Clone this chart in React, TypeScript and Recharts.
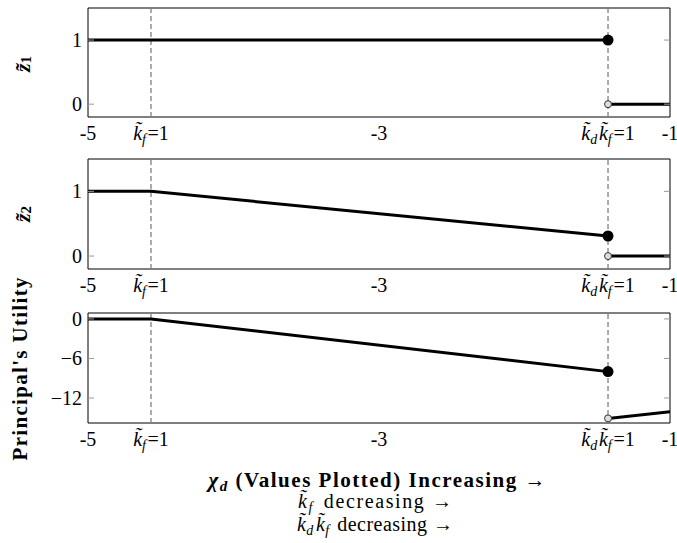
import { LineChart, Line, XAxis, YAxis, ReferenceLine, ReferenceArea } from 'recharts';

// x positions of the two thresholds (chi_d values)
const kfLine = -4.567;
const kdkfLine = -1.426;
const xTicks = [-5, kfLine, -3, kdkfLine, -1];

// z1 panel
const z1LeftX = [-5, kfLine, kdkfLine];
const z1LeftY = [1, 1, 1];
const z1RightX = [kdkfLine, -1];
const z1RightY = [0, 0];

// z2 panel
const z2LeftX = [-5, kfLine, kdkfLine];
const z2LeftY = [1, 1, 0.31];
const z2RightX = [kdkfLine, -1];
const z2RightY = [0, 0];

// principal's utility panel
const utilLeftX = [-5, kfLine, kdkfLine];
const utilLeftY = [0, 0, -8];
const utilRightX = [kdkfLine, -1];
const utilRightY = [-15.1, -14.1];

const zTicks = [0, 1];
const utilTicks = [-12, -6, 0];

const FONT = 'Liberation Serif, DejaVu Serif, serif';
const PLOT_LEFT = 88;
const PLOT_RIGHT = 670;
const PAD_TOP = 12;

const toRows = (xs: number[], ys: number[]) => xs.map((x, i) => ({ x, y: ys[i] }));

const KTilde = ({ sub }: { sub: string }) => (
    <>
        <tspan fontStyle="italic">{'k\u0303'}</tspan>
        <tspan fontStyle="italic" fontSize={14} dy={4}>{sub}</tspan>
        <tspan dy={-4}>{'\u200a'}</tspan>
    </>
);

const XTick = (props: any) => {
    const { x, y, payload } = props;
    const v = payload.value;
    let content: any = v === -5 ? '-5' : v === -3 ? '-3' : '-1';
    if (v === kfLine) content = (<><KTilde sub="f" /><tspan>=1</tspan></>);
    if (v === kdkfLine) content = (<><KTilde sub="d" /><KTilde sub="f" /><tspan>=1</tspan></>);
    return (
        <text x={x} y={y + 15} textAnchor="middle" style={{ fontFamily: FONT }} fontSize={20} fill="#000">
            {content}
        </text>
    );
};

const YTick = (props: any) => {
    const { y, payload } = props;
    const v = payload.value;
    const label = v < 0 ? `\u2212${-v}` : `${v}`;
    return (
        <g>
            <line x1={PLOT_LEFT} x2={PLOT_LEFT + 6} y1={y} y2={y} stroke="#999" />
            <line x1={PLOT_RIGHT - 6} x2={PLOT_RIGHT} y1={y} y2={y} stroke="#999" />
            <text x={PLOT_LEFT - 6} y={y} dy="0.35em" textAnchor="end" style={{ fontFamily: FONT }} fontSize={20} fill="#000">
                {label}
            </text>
        </g>
    );
};

const Panel = ({ top, plotH, domain, ticks, left, right }: any) => {
    const lastIdx = left.length - 1;
    return (
        <div style={{ position: 'absolute', left: 0, top: top - PAD_TOP }}>
            <LineChart width={677} height={plotH + PAD_TOP + 40} margin={{ top: PAD_TOP, right: 677 - PLOT_RIGHT, bottom: 0, left: 0 }}>
                <XAxis
                    dataKey="x"
                    type="number"
                    domain={[-5, -1]}
                    ticks={xTicks}
                    height={40}
                    axisLine={false}
                    tickLine={false}
                    tick={<XTick />}
                    interval={0}
                    allowDataOverflow
                />
                <YAxis
                    type="number"
                    domain={domain}
                    ticks={ticks}
                    width={PLOT_LEFT}
                    axisLine={false}
                    tickLine={false}
                    tick={<YTick />}
                    allowDataOverflow
                />
                <ReferenceLine x={kfLine} stroke="#808080" strokeWidth={1.3} strokeDasharray="5 3" />
                <ReferenceLine x={kdkfLine} stroke="#808080" strokeWidth={1.3} strokeDasharray="5 3" />
                <ReferenceArea x1={-5} x2={-1} y1={domain[0]} y2={domain[1]} fill="none" stroke="#000" strokeWidth={1} />
                <Line
                    data={left}
                    dataKey="y"
                    stroke="#000"
                    strokeWidth={3}
                    isAnimationActive={false}
                    dot={(p: any) =>
                        p.index === lastIdx
                            ? <circle key={`l${p.index}`} cx={p.cx} cy={p.cy} r={5.5} fill="#000" />
                            : <g key={`l${p.index}`} />
                    }
                    activeDot={false}
                />
                <Line
                    data={right}
                    dataKey="y"
                    stroke="#000"
                    strokeWidth={3}
                    isAnimationActive={false}
                    dot={(p: any) =>
                        p.index === 0
                            ? <circle key={`r${p.index}`} cx={p.cx} cy={p.cy} r={3.5} fill="#ddd" stroke="#333" strokeWidth={1} />
                            : <g key={`r${p.index}`} />
                    }
                    activeDot={false}
                />
            </LineChart>
        </div>
    );
};

const Labels = () => (
    <svg width={677} height={543} style={{ position: 'absolute', left: 0, top: 0, pointerEvents: 'none', fontFamily: FONT }}>
        <text transform="translate(22,64) rotate(-90)" textAnchor="middle" dominantBaseline="central" fontSize={22} fontWeight="bold">
            <tspan fontStyle="italic">{'z\u0303'}</tspan>
            <tspan fontSize={15} dy={4}>1</tspan>
        </text>
        <text transform="translate(22,214) rotate(-90)" textAnchor="middle" dominantBaseline="central" fontSize={22} fontWeight="bold">
            <tspan fontStyle="italic">{'z\u0303'}</tspan>
            <tspan fontSize={15} dy={4}>2</tspan>
        </text>
        <text transform="translate(20,369) rotate(-90)" textAnchor="middle" dominantBaseline="central" fontSize={21} fontWeight="bold" textLength={183} lengthAdjust="spacing">
            Principal's Utility
        </text>
        <text x={377} y={487} textAnchor="middle" fontSize={21} fontWeight="bold" textLength={337} lengthAdjust="spacing">
            <tspan fontStyle="italic">{'\u03c7'}</tspan>
            <tspan fontStyle="italic" fontSize={15} dy={4}>d</tspan>
            <tspan dy={-4}> (Values Plotted) Increasing {'\u2192'}</tspan>
        </text>
        <text x={375} y={508} textAnchor="middle" fontSize={20} textLength={154} lengthAdjust="spacing">
            <KTilde sub="f" />
            <tspan> decreasing {'\u2192'}</tspan>
        </text>
        <text x={375} y={531} textAnchor="middle" fontSize={20} textLength={156} lengthAdjust="spacing">
            <KTilde sub="d" />
            <KTilde sub="f" />
            <tspan> decreasing {'\u2192'}</tspan>
        </text>
    </svg>
);

export default function App() {
    return (
        <div style={{ position: 'absolute', left: 0, top: 0, width: 677, height: 543, background: '#fff' }}>
            <Panel top={8} plotH={109} domain={[-0.2, 1.5]} ticks={zTicks} left={toRows(z1LeftX, z1LeftY)} right={toRows(z1RightX, z1RightY)} />
            <Panel top={159} plotH={110} domain={[-0.2, 1.5]} ticks={zTicks} left={toRows(z2LeftX, z2LeftY)} right={toRows(z2RightX, z2RightY)} />
            <Panel top={313} plotH={110} domain={[-15.8, 0.9]} ticks={utilTicks} left={toRows(utilLeftX, utilLeftY)} right={toRows(utilRightX, utilRightY)} />
            <Labels />
        </div>
    );
}
